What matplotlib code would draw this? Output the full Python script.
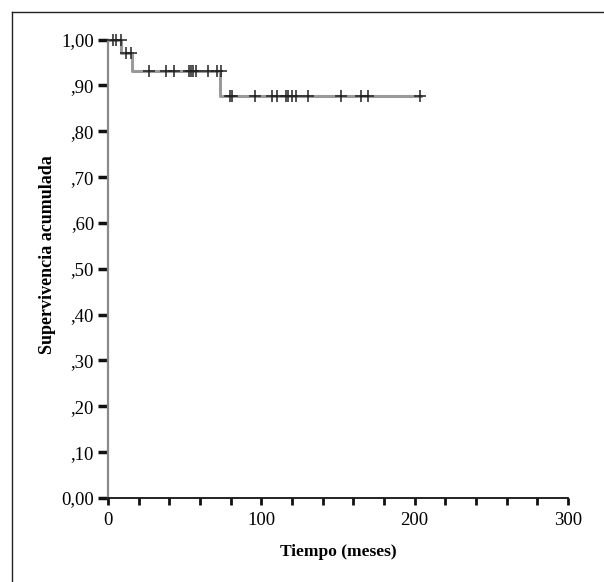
import matplotlib.pyplot as plt
from matplotlib.lines import Line2D

# Kaplan-Meier step curve
step_times = [0, 8.3, 15.4, 73, 204]
step_surv = [1.00, 0.970, 0.932, 0.878, 0.878]

# censored observations: (time, survival level)
cens_times = [3, 5.5, 8.5,
              11.7, 14.8,
              27, 38, 43, 53, 54.2, 55.6, 57.1, 65.3, 70.8, 73.8,
              79.5, 81, 95.8, 107, 109.9, 115.8, 117.5, 120.1, 122.9, 130.5,
              152.2, 165.3, 169.6, 203.3]
cens_surv = [1.00] * 3 + [0.970] * 2 + [0.932] * 10 + [0.878] * 14

y_ticks = [0.0, 0.1, 0.2, 0.3, 0.4, 0.5, 0.6, 0.7, 0.8, 0.9, 1.0]
y_labels = ['0,00', ',10', ',20', ',30', ',40', ',50', ',60', ',70', ',80', ',90', '1,00']
x_ticks = [0, 100, 200, 300]

plt.rcParams['font.family'] = ['Liberation Serif', 'DejaVu Serif']

fig = plt.figure(figsize=(6.04, 5.82), dpi=100)
ax = fig.add_axes([0.1788, 0.1443, 0.7616, 0.7877])

ax.step(step_times, step_surv, where='post', color='#9a9a9a', lw=2.2, zorder=2)
ax.plot(cens_times, cens_surv, ls='none', marker='+', ms=8, mew=1.1,
        color='#222222', clip_on=False, zorder=3)

ax.set_xlim(0, 300)
ax.set_ylim(0, 1.0)
ax.set_yticks(y_ticks)
ax.set_yticklabels(y_labels)
ax.set_xticks(x_ticks)
ax.set_xticks(range(0, 301, 20), minor=True)

for location in ['right', 'top']:
    ax.spines[location].set_visible(False)
ax.spines['left'].set_color('#8a8a8a')
ax.spines['left'].set_linewidth(1.6)
ax.spines['bottom'].set_color('#111111')
ax.spines['bottom'].set_linewidth(1.3)

ax.tick_params(axis='y', length=7, width=2.5, color='#111111', labelsize=13.5, pad=3)
ax.tick_params(axis='x', which='both', length=5, width=2, color='#111111',
               labelsize=13.5, pad=5)

ax.set_ylabel('Supervivencia acumulada', fontsize=13, weight='bold')
ax.yaxis.set_label_coords(-0.113, 0.53)
ax.set_xlabel('Tiempo (meses)', fontsize=12.5, weight='bold', labelpad=11)

# frame around the figure (top and left edges visible)
fig.add_artist(Line2D([0.0195, 1.0], [0.980, 0.980], transform=fig.transFigure,
                      color='#222222', lw=1))
fig.add_artist(Line2D([0.0195, 0.0195], [0.0, 0.980], transform=fig.transFigure,
                      color='#222222', lw=1))

plt.savefig('out.png', dpi=100)
